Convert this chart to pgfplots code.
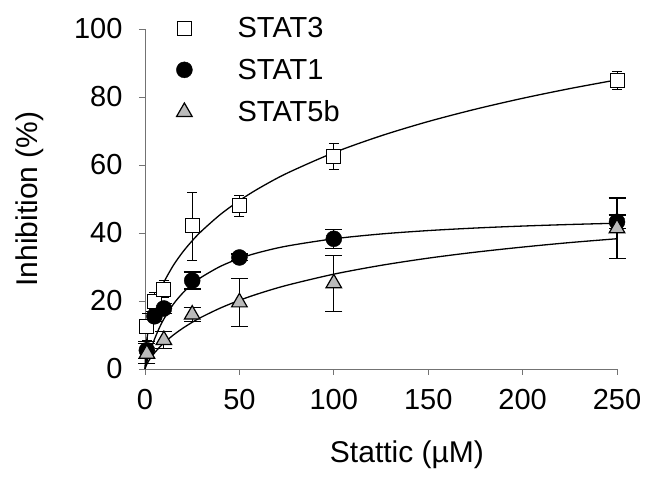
\documentclass[border=0pt]{standalone}
\usepackage{fontspec}
\setmainfont{Liberation Sans}
\usepackage{pgfplots}
\pgfplotsset{compat=1.18}
\pgfplotsset{
  mylegend/.style={legend image code/.code={\path (0pt,0pt) (59pt,0pt); \draw[##1] plot coordinates {(8pt,0pt)};}},
}
\begin{document}
\begin{tikzpicture}
\begin{axis}[
  scale only axis, width=472pt, height=340pt,
  xmin=0, xmax=250, ymin=0, ymax=100,
  clip=false,
  axis x line*=bottom, axis y line*=left,
  axis line style={color=black!55, line width=0.9pt},
  tick style={color=black!55, line width=0.9pt},
  tick align=outside, major tick length=6pt,
  xtick={0,50,100,150,200,250}, ytick={0,20,40,60,80,100},
  /pgf/number format/assume math mode=true,
  tick label style={font=\fontsize{29}{33}\selectfont, black},
  xticklabel style={yshift=-11pt},
  yticklabel style={xshift=-13pt},
  xlabel={Stattic (µM)}, ylabel={Inhibition (\%)},
  label style={font=\fontsize{30}{34}\selectfont},
  xlabel style={at={(axis description cs:0.555,-0.253)}, anchor=center},
  ylabel style={at={(axis description cs:-0.2437,0.5)}, anchor=center},
  legend style={at={(axis description cs:0.0593,1.047)}, anchor=north west, draw=none, fill=none,
    font=\fontsize{29}{33}\selectfont, row sep=16pt, cells={anchor=west}},
]
% fitted curves
\addplot[black, line width=1.3pt, smooth, forget plot] coordinates {
(0,0) (0.5,6.29) (1,8.80) (2,12.25) (3,14.81) (5,18.74) (7.5,22.51) (10,25.56) (15,30.46) (20,34.40)
(25,37.71) (30,40.59) (40,45.48) (50,49.53) (60,53.03) (75,57.52) (100,63.62) (125,68.58)
(150,72.78) (175,76.41) (200,79.61) (225,82.47) (250,85.04)};
\addplot[black, line width=1.3pt, smooth, forget plot] coordinates {
(0,0) (0.5,1.05) (1,2.05) (2,3.93) (3,5.66) (5,8.73) (7.5,11.97) (10,14.70) (15,19.05) (20,22.35)
(25,24.95) (30,27.04) (40,30.21) (50,32.50) (60,34.22) (75,36.14) (100,38.29) (125,39.71)
(150,40.71) (175,41.46) (200,42.04) (225,42.50) (250,42.88)};
\addplot[black, line width=1.3pt, smooth, forget plot] coordinates {
(0,0) (0.5,0.85) (1,1.43) (2,2.41) (3,3.26) (5,4.71) (7.5,6.27) (10,7.64) (15,9.99) (20,11.98)
(25,13.73) (30,15.28) (40,17.95) (50,20.20) (60,22.13) (75,24.60) (100,27.89) (125,30.48)
(150,32.60) (175,34.36) (200,35.86) (225,37.18) (250,38.31)};
% STAT3
\addplot[only marks, mark=square*, mark size=7pt, mark options={fill=white, draw=black, line width=0.8pt}, mylegend,
  error bars/.cd, y dir=both, y explicit,
  error bar style={line width=0.6pt, black},
  error mark options={rotate=90, mark size=5pt, line width=0.6pt, black}]
coordinates {
(1,12.5) +- (0,4)
(5,20) +- (0,2.5)
(10,23.5) +- (0,2.5)
(25,42.1) +- (0,10)
(50,48) +- (0,3.2)
(100,62.6) +- (0,3.8)
(250,85) +- (0,2.7)};
\addlegendentry{STAT3}
% STAT1
\addplot[only marks, mark=*, mark size=8pt, mark options={fill=black, draw=black}, mylegend,
  error bars/.cd, y dir=both, y explicit,
  error bar style={line width=1.2pt, black},
  error mark options={rotate=90, mark size=8.5pt, line width=1.2pt, black}]
coordinates {
(1,5.5) +- (0,2.5)
(5,15.5) +- (0,1.5)
(10,17.8) +- (0,1.5)
(25,26) +- (0,2.5)
(50,32.8) +- (0,1)
(100,38.3) +- (0,2.8)
(250,43.3) +- (0,2)};
\addlegendentry{STAT1}
% STAT5b
\addplot[only marks, mark=triangle*, mark size=9pt, mark options={fill=black!27, draw=black, line width=1.2pt}, mylegend,
  error bars/.cd, y dir=both, y explicit,
  error bar style={line width=1.2pt, black},
  error mark options={rotate=90, mark size=8.5pt, line width=1.2pt, black}]
coordinates {
(1,4.5) +- (0,3)
(10,8.5) +- (0,2.5)
(25,16) +- (0,2)
(50,19.6) +- (0,7)
(100,25.2) +- (0,8.2)
(250,41.4) +- (0,8.9)};
\addlegendentry{STAT5b}
\end{axis}
\pgfresetboundingbox
\path ([shift={(-145pt,-114pt)}]current axis.south west) rectangle ([shift={(28pt,29pt)}]current axis.north east);
\end{tikzpicture}
\end{document}
